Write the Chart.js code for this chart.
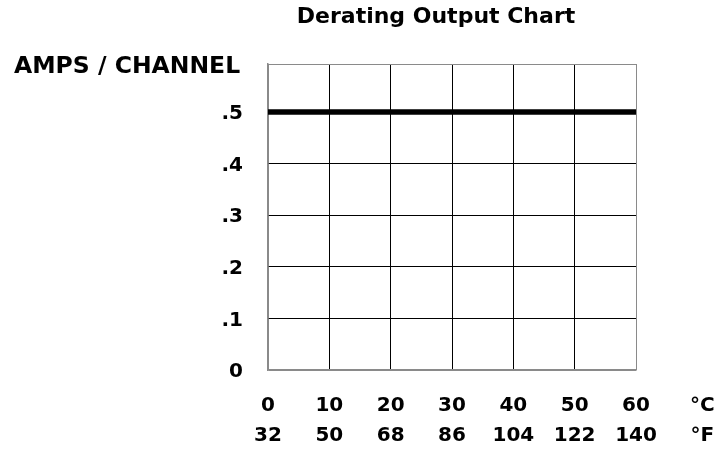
<!DOCTYPE html>
<html>
<head>
<meta charset="utf-8">
<title>Derating Output Chart</title>
<script src="https://cdn.jsdelivr.net/npm/chart.js@4.4.1/dist/chart.umd.min.js"></script>
<style>
  body { margin: 0; background: #fff; }
  canvas { display: block; }
</style>
</head>
<body>
<canvas id="deratingChart" width="719" height="452"></canvas>
<script>
// data
const tempC = [0, 10, 20, 30, 40, 50, 60];
const tempF = ['32', '50', '68', '86', '104', '122', '140'];
const amps = [0.5, 0.5, 0.5, 0.5, 0.5, 0.5, 0.5];
const yTicks = [0, 0.1, 0.2, 0.3, 0.4, 0.5];
const yTickLabels = ['0', '.1', '.2', '.3', '.4', '.5'];
const unitLabels = ['°C', '°F'];
const yTop = 0.593;

const FONT = 'DejaVu Sans';
const gridBlack = '#000';
const edgeGrey = '#8a8a8a';

// title, y label and the unit column at the right
const labelsPlugin = {
    id: 'labels',
    afterDraw(chart) {
        const ctx = chart.ctx;
        const x = chart.scales.x;
        ctx.save();
        ctx.fillStyle = '#000';
        ctx.textBaseline = 'middle';

        ctx.font = 'bold 22px ' + FONT;
        ctx.textAlign = 'center';
        ctx.fillText('Derating Output Chart', 436, 17);

        ctx.font = 'bold 23.5px ' + FONT;
        ctx.textAlign = 'left';
        ctx.fillText('AMPS / CHANNEL', 14, 67);

        ctx.font = 'bold 20px ' + FONT;
        ctx.textAlign = 'center';
        const ux = x.getPixelForValue(70) + 5;
        ctx.fillText(unitLabels[0], ux, 406);
        ctx.fillText(unitLabels[1], ux, 436);
        ctx.restore();
    }
};

const chartCtx = document.getElementById('deratingChart').getContext('2d');
new Chart(chartCtx, {
    type: 'line',
    data: {
        datasets: [{
            data: tempC.map((c, i) => ({ x: c, y: amps[i] })),
            borderColor: '#000',
            borderWidth: 5.5,
            pointRadius: 0,
            fill: false,
            tension: 0
        }]
    },
    options: {
        responsive: false,
        animation: false,
        layout: {
            padding: { top: 64, right: 83, left: 0, bottom: 0 }
        },
        plugins: {
            legend: { display: false },
            title: { display: false },
            tooltip: { enabled: false }
        },
        scales: {
            x: {
                type: 'linear',
                min: 0,
                max: 60,
                afterFit: (s) => { s.height = 82; },
                grid: {
                    drawTicks: false,
                    lineWidth: 1,
                    color: (c) => (c.tick && (c.tick.value === 0 || c.tick.value === 60)) ? edgeGrey : gridBlack
                },
                border: { color: edgeGrey, width: 1.5 },
                ticks: {
                    stepSize: 10,
                    padding: 21,
                    maxRotation: 0,
                    autoSkip: false,
                    color: '#000',
                    font: { family: FONT, size: 20, weight: 'bold', lineHeight: 1.5 },
                    callback: (v, i) => [String(tempC[i]), tempF[i]]
                }
            },
            y: {
                min: 0,
                max: yTop,
                afterFit: (s) => { s.width = 268; },
                afterBuildTicks: (s) => {
                    s.ticks = yTicks.concat([yTop]).map(v => ({ value: v }));
                },
                grid: {
                    drawTicks: false,
                    lineWidth: 1,
                    color: (c) => (c.tick && (c.tick.value === 0 || c.tick.value === yTop)) ? edgeGrey : gridBlack
                },
                border: { color: edgeGrey, width: 1.5 },
                ticks: {
                    padding: 25,
                    labelOffset: 2,
                    color: '#000',
                    font: { family: FONT, size: 20, weight: 'bold' },
                    callback: (v, i) => (i < yTickLabels.length ? yTickLabels[i] : '')
                }
            }
        }
    },
    plugins: [labelsPlugin]
});
</script>
</body>
</html>
